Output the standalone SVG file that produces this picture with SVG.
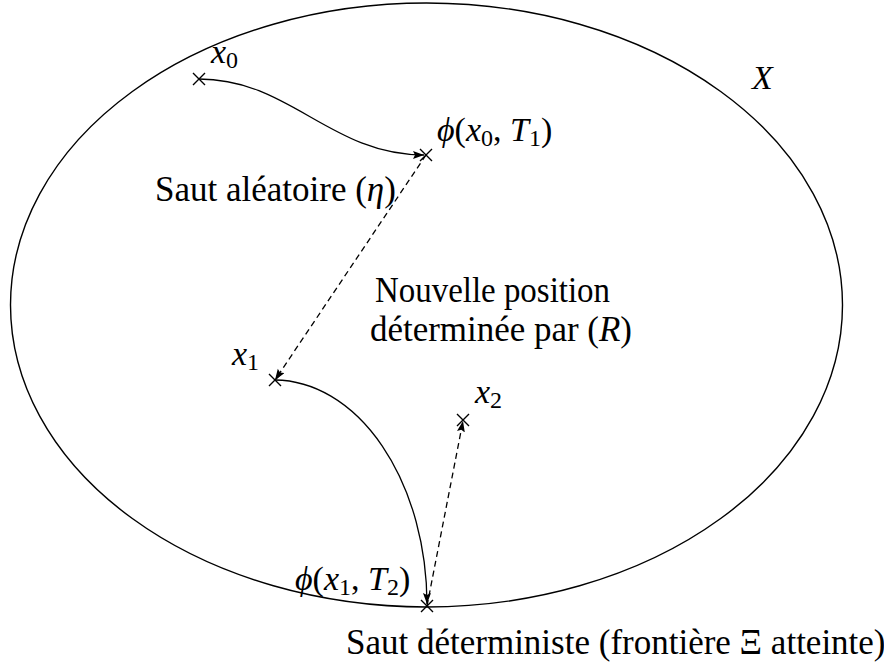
<svg xmlns="http://www.w3.org/2000/svg" width="884" height="666" viewBox="0 0 884 666">
<style>
text{font-family:"Liberation Serif","DejaVu Serif",serif;font-size:35px;fill:#000}
.m{font-size:34px}
.i{font-style:italic}
.s{font-size:24px}
.ln{fill:none;stroke:#000;stroke-width:1.3}
.d{stroke-dasharray:6,4}
.x{stroke:#000;stroke-width:1.4}
</style>
<defs>
<marker id="ah" markerUnits="userSpaceOnUse" markerWidth="12" markerHeight="10" refX="11" refY="4" orient="auto">
<path d="M0,0 L11,4 L0,8 L2,4 z" fill="#000"/>
</marker>
</defs>
<g id="domain">
<ellipse cx="426.5" cy="305" rx="416" ry="302" fill="none" stroke="#000" stroke-width="1.4"/>
<text class="m i" x="752" y="89">X</text>
</g>
<g id="connectors">
<path class="ln" d="M199,79 C290,79 330,155 424,155" marker-end="url(#ah)"/>
<path class="ln d" d="M426,155 L275,380" marker-end="url(#ah)"/>
<path class="ln" d="M275,380 A153,225 0 0 1 427,604" marker-end="url(#ah)"/>
<path class="ln d" d="M427,606 L463,421" marker-end="url(#ah)"/>
</g>
<g id="x0">
<path class="x" d="M193,73 L205,85 M205,73 L193,85"/>
<text class="m" x="211" y="63"><tspan class="i">x</tspan><tspan class="s" dy="5">0</tspan></text>
</g>
<g id="phi0">
<path class="x" d="M420,149 L432,161 M432,149 L420,161"/>
<text class="m" x="437" y="141"><tspan class="i">ϕ</tspan>(<tspan class="i">x</tspan><tspan class="s" dy="5">0</tspan><tspan dy="-5">, </tspan><tspan class="i">T</tspan><tspan class="s" dy="5">1</tspan><tspan dy="-5">)</tspan></text>
</g>
<g id="jump1">
<text x="155" y="201">Saut aléatoire (<tspan class="i">η</tspan>)</text>
</g>
<g id="newpos">
<text x="375" y="302" textLength="235" lengthAdjust="spacingAndGlyphs">Nouvelle position</text>
<text x="370" y="341" textLength="262" lengthAdjust="spacingAndGlyphs">déterminée par (<tspan class="i">R</tspan>)</text>
</g>
<g id="x1">
<path class="x" d="M269,374 L281,386 M281,374 L269,386"/>
<text class="m" x="232" y="365"><tspan class="i">x</tspan><tspan class="s" dy="5">1</tspan></text>
</g>
<g id="x2">
<path class="x" d="M457,414 L469,426 M469,414 L457,426"/>
<text class="m" x="475" y="403"><tspan class="i">x</tspan><tspan class="s" dy="5">2</tspan></text>
</g>
<g id="phi1">
<path class="x" d="M421,600 L433,612 M433,600 L421,612"/>
<text class="m" x="295" y="590"><tspan class="i">ϕ</tspan>(<tspan class="i">x</tspan><tspan class="s" dy="5">1</tspan><tspan dy="-5">, </tspan><tspan class="i">T</tspan><tspan class="s" dy="5">2</tspan><tspan dy="-5">)</tspan></text>
</g>
<g id="jump2">
<text x="346" y="654">Saut déterministe (frontière Ξ atteinte)</text>
</g>
</svg>
